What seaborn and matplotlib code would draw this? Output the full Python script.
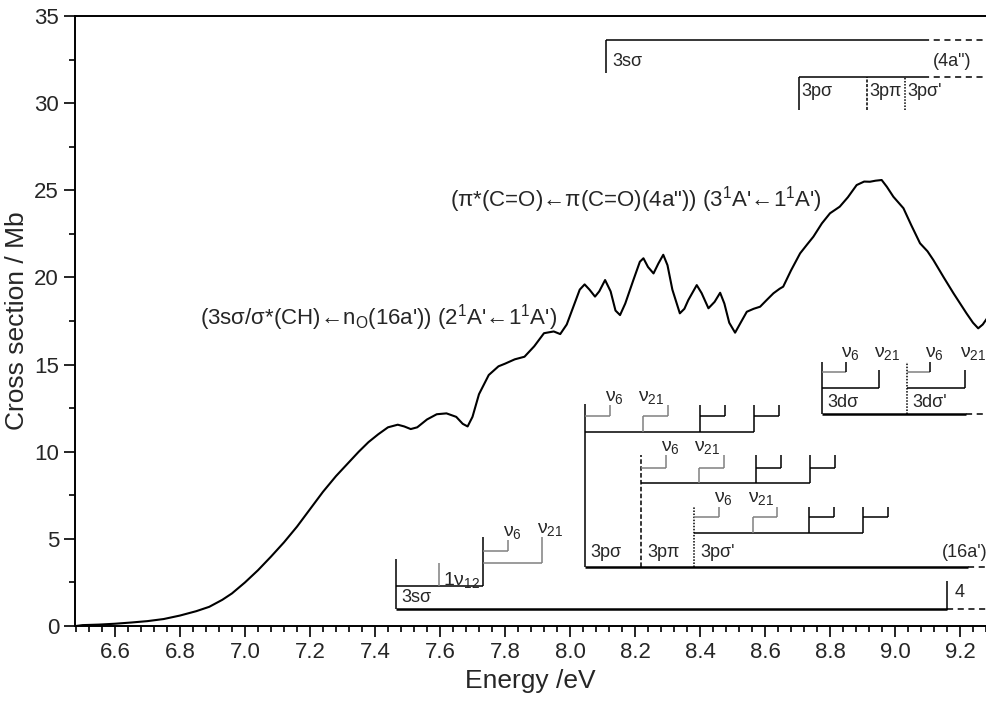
import matplotlib
matplotlib.use("Agg")
import matplotlib.pyplot as plt
from matplotlib import font_manager
import pandas as pd
import seaborn as sns

# Photoabsorption curve
energy = [6.48, 6.50, 6.55, 6.60, 6.65, 6.70, 6.75, 6.80, 6.85, 6.89, 6.93, 6.96,
          7.00, 7.04, 7.08, 7.12, 7.16, 7.20, 7.24, 7.28, 7.32, 7.35, 7.38, 7.41,
          7.44, 7.47, 7.49, 7.51, 7.53, 7.56, 7.59, 7.62, 7.65, 7.67, 7.685, 7.70,
          7.72, 7.75, 7.78, 7.80, 7.83, 7.86, 7.89, 7.92, 7.95, 7.97, 7.99, 8.01,
          8.03, 8.045, 8.06, 8.077, 8.09, 8.108, 8.125, 8.14, 8.154, 8.17, 8.195,
          8.215, 8.226, 8.24, 8.257, 8.272, 8.287, 8.30, 8.315, 8.338, 8.352, 8.364,
          8.39, 8.405, 8.426, 8.445, 8.462, 8.475, 8.49, 8.508, 8.525, 8.544, 8.565,
          8.585, 8.605, 8.626, 8.645, 8.656, 8.68, 8.708, 8.73, 8.749, 8.775, 8.80,
          8.83, 8.855, 8.882, 8.905, 8.923, 8.94, 8.959, 8.975, 8.995, 9.026, 9.05,
          9.077, 9.10, 9.118, 9.15, 9.18, 9.22, 9.24, 9.256, 9.27, 9.285]
cross_section = [0.0, 0.05, 0.08, 0.13, 0.2, 0.28, 0.4, 0.6, 0.85, 1.1, 1.5, 1.87,
                 2.5, 3.2, 3.98, 4.8, 5.7, 6.7, 7.7, 8.6, 9.4, 10.0, 10.55, 11.0,
                 11.4, 11.55, 11.45, 11.3, 11.4, 11.85, 12.15, 12.2, 12.0, 11.6, 11.45, 12.0,
                 13.3, 14.4, 14.9, 15.05, 15.3, 15.45, 16.05, 16.8, 16.9, 16.75, 17.3, 18.3,
                 19.3, 19.6, 19.3, 18.9, 19.2, 19.85, 19.2, 18.1, 17.84, 18.5, 19.85,
                 20.9, 21.1, 20.6, 20.23, 20.8, 21.3, 20.7, 19.3, 17.94, 18.2, 18.7,
                 19.56, 19.1, 18.23, 18.6, 19.12, 18.5, 17.4, 16.83, 17.4, 18.03, 18.2,
                 18.32, 18.7, 19.09, 19.35, 19.47, 20.4, 21.38, 21.9, 22.34, 23.1, 23.68,
                 24.06, 24.6, 25.3, 25.5, 25.49, 25.55, 25.59, 25.2, 24.63, 23.97, 23.0,
                 21.96, 21.5, 21.0, 20.0, 19.09, 17.94, 17.4, 17.08, 17.3, 17.7]

# Rydberg assignments (level energies in eV, heights in Mb)
ryd4a_3s = 8.111
ryd4a_3p = [8.705, 8.914, 9.031]
ryd4a_3p_labels = ['3pσ', '3pπ', "3pσ'"]

band3s_origin = 7.464
band3s_nu12 = 7.598
band3s_vib = 7.733
band3s_nu6_end = 7.81
band3s_nu21_end = 7.913
band3s_limit = 9.161

band3p_origins = [8.046, 8.220, 8.383]
band3p_labels = ['3pσ', '3pπ', "3pσ'"]
prog3p_levels = [[8.046, 8.225, 8.400, 8.567],
                 [8.220, 8.398, 8.572, 8.740],
                 [8.383, 8.562, 8.736, 8.902]]
prog3p_base = [11.11, 8.19, 5.32]
prog3p_mid = [12.05, 9.08, 6.24]
prog3p_top = [12.66, 9.81, 6.84]
nu6_width = 0.076

band3d_origins = [8.774, 9.036]
band3d_labels = ['3dσ', "3dσ'"]
band3d_nu6_end = [8.848, 9.108]
band3d_nu21_end = [8.951, 9.215]

sns.set_style('ticks')
plt.rcParams['font.family'] = ['Liberation Sans', 'DejaVu Sans']
plt.rcParams['mathtext.fontset'] = 'custom'
plt.rcParams['mathtext.rm'] = 'Liberation Sans'
plt.rcParams['mathtext.it'] = 'Liberation Sans:italic'

try:
    font_manager.findfont('Liberation Sans Narrow', fallback_to_default=False)
    xtick_family = 'Liberation Sans Narrow'
except Exception:
    xtick_family = 'Liberation Sans'

fig = plt.figure(figsize=(9.86, 7.02), dpi=100)
ax = fig.add_axes([75 / 986, 76 / 702, 911 / 986, 610 / 702])

df = pd.DataFrame({'Energy': energy, 'Cross': cross_section})
sns.lineplot(data=df, x='Energy', y='Cross', color='black', linewidth=1.5, ax=ax)
ax.lines[0].set_solid_joinstyle('round')

GRAY = '#808080'
DASH = (0, (4, 3))
END = 9.32
SUP1 = '$^{\\mathregular{1}}$'


def seg(x0, x1, y0, y1, color='black', lw=1.1, ls='-'):
    ax.plot([x0, x1], [y0, y1], color=color, lw=lw, ls=ls, solid_capstyle='butt')


def label(x, y, s, size=13, **kw):
    ax.text(x, y, s, fontsize=size, ha='left', va='center', clip_on=True, **kw)


def nu_label(x, y, sub):
    ax.text(x - 0.015, y + 0.25, 'ν$_{\\mathregular{%s}}$' % sub, fontsize=14,
            ha='left', va='baseline')


# --- 4a'' series (top) ---
seg(ryd4a_3s, 9.086, 33.62, 33.62)
seg(9.086, END, 33.62, 33.62, ls=DASH)
seg(ryd4a_3s, ryd4a_3s, 31.73, 33.62)
label(ryd4a_3s + 0.018, 32.4, '3sσ')
label(9.117, 32.4, '(4a")')
seg(ryd4a_3p[0], 9.086, 31.50, 31.50)
seg(9.086, END, 31.50, 31.50, ls=DASH)
for e, st, lab in zip(ryd4a_3p, ['-', (0, (2, 1)), (0, (1, 1))], ryd4a_3p_labels):
    seg(e, e, 29.60, 31.50, ls=st)
    label(e + 0.008, 30.65, lab)

# --- 3s sigma band (bottom left) ---
seg(band3s_origin, band3s_limit, 0.975, 0.975, lw=1.8)
seg(band3s_limit, END, 0.975, 0.975, ls=DASH)
seg(band3s_origin, band3s_origin, 0.975, 3.84)
seg(band3s_origin, band3s_vib, 2.29, 2.29)
seg(band3s_nu12, band3s_nu12, 2.29, 3.61, color=GRAY)
seg(band3s_vib, band3s_vib, 2.29, 5.11)
seg(band3s_vib, band3s_nu6_end, 4.32, 4.32, color=GRAY)
seg(band3s_nu6_end, band3s_nu6_end, 4.32, 4.93, color=GRAY)
seg(band3s_vib, band3s_nu21_end, 3.60, 3.60, color=GRAY)
seg(band3s_nu21_end, band3s_nu21_end, 3.60, 5.11, color=GRAY)
seg(band3s_limit, band3s_limit, 0.92, 2.6)
label(band3s_origin + 0.018, 1.65, '3sσ')
ax.text(band3s_nu12 + 0.01, 2.35, '1ν$_{\\mathregular{12}}$', fontsize=14,
        ha='left', va='baseline')
nu_label(band3s_nu6_end, 4.93, '6')
nu_label(band3s_nu21_end, 5.11, '21')
label(band3s_limit + 0.024, 1.9, '4')

# --- 3p band (16a') ---
seg(band3p_origins[0], 9.225, 3.40, 3.40, lw=1.8)
seg(9.225, END, 3.40, 3.40, ls=DASH)
for e, st, top, lab in zip(band3p_origins, ['-', (0, (3, 1.5)), (0, (1, 1))],
                           prog3p_top, band3p_labels):
    seg(e, e, 3.40, top + (0.1 if st == '-' else 0), ls=st)
    label(e + 0.018, 4.2, lab)
label(9.144, 4.2, "(16a')")

for levels, base, mid, top in zip(prog3p_levels, prog3p_base, prog3p_mid, prog3p_top):
    seg(levels[0], levels[-1], base, base)
    for k, lv in enumerate(levels):
        col = GRAY if k <= 1 else 'black'
        if k > 0:
            seg(lv, lv, base, top if k > 1 else mid, color=col)
        seg(lv, lv + nu6_width, mid, mid, color=col)
        seg(lv + nu6_width, lv + nu6_width, mid, top, color=col)
    nu_label(levels[0] + nu6_width, top, '6')
    nu_label(levels[1], top, '21')

# --- 3d band ---
seg(band3d_origins[0], 9.22, 12.16, 12.16, lw=1.8)
seg(9.22, END, 12.16, 12.16, ls=DASH)
for e, st, e6, e21, lab in zip(band3d_origins, ['-', (0, (1, 1))], band3d_nu6_end,
                               band3d_nu21_end, band3d_labels):
    seg(e, e, 12.16, 15.16, ls=st)
    seg(e, e21, 13.64, 13.64)
    seg(e21, e21, 13.64, 14.69)
    seg(e, e6, 14.56, 14.56, color=GRAY)
    seg(e6, e6, 14.56, 15.16)
    label(e + 0.018, 12.8, lab)
    nu_label(e6, 15.16, '6')
    nu_label(e21, 15.16, '21')

# band assignments
ax.text(7.631, 24.44, "(π*(C=O)←π(C=O)(4a\")) (3" + SUP1 + "A'←1" + SUP1 + "A')",
        fontsize=16, ha='left', va='center')
ax.text(6.862, 17.67, "(3sσ/σ*(CH)←n$_{\\mathregular{O}}$(16a')) (2" + SUP1
        + "A'←1" + SUP1 + "A')", fontsize=16, ha='left', va='center')

ax.set_xlim(6.477, 9.28)
ax.set_ylim(0, 35)
ax.set_xticks([6.6 + 0.2 * i for i in range(14)])
ax.set_xticks([6.48 + 0.04 * i for i in range(71)], minor=True)
ax.set_yticks(range(0, 36, 5))
ax.set_yticks([2.5 + 5 * i for i in range(7)], minor=True)
ax.set_xticklabels(['%.1f' % (6.6 + 0.2 * i) for i in range(14)],
                   family=xtick_family, fontsize=16)
ax.tick_params(axis='y', labelsize=16)
ax.tick_params(which='major', direction='out', length=8, width=1.2, color='black')
ax.tick_params(which='minor', direction='out', length=4, width=1.2, color='black')
for side in ['left', 'bottom', 'top']:
    ax.spines[side].set_linewidth(1.4)
    ax.spines[side].set_color('black')
ax.spines['right'].set_visible(False)

ax.set_xlabel('Energy /eV', fontsize=19)
ax.set_ylabel('Cross section / Mb', fontsize=19)

fig.savefig('out.png', dpi=100)
